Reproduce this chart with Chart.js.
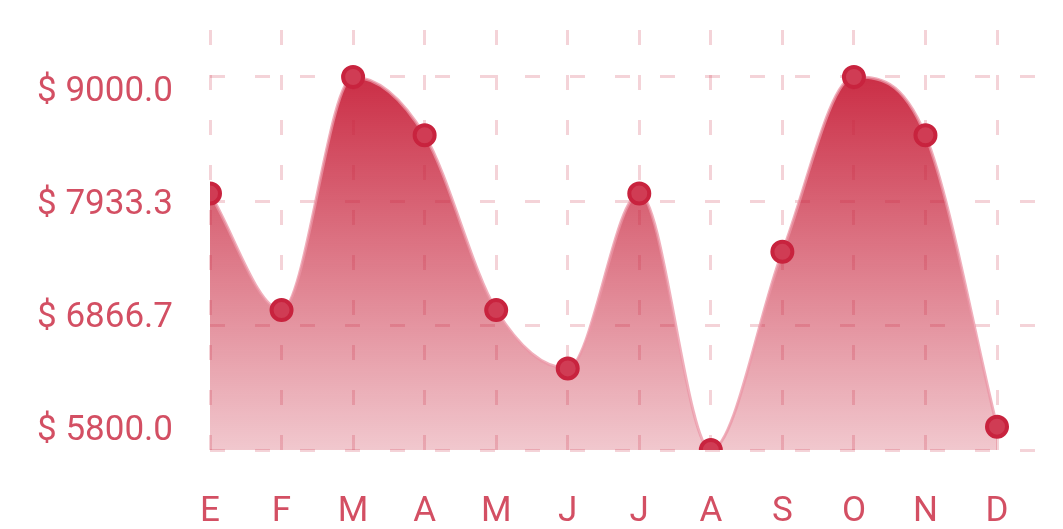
<!DOCTYPE html>
<html>
<head>
<meta charset="utf-8">
<script src="https://cdn.jsdelivr.net/npm/chart.js@4.4.0/dist/chart.umd.min.js"></script>
<style>
  html, body { margin: 0; padding: 0; background: #ffffff; }
  #wrap { width: 1063px; height: 529px; position: relative; }
</style>
</head>
<body>
<div id="wrap"><canvas id="c" width="1063" height="529"></canvas></div>
<script>
const months = ['E', 'F', 'M', 'A', 'M', 'J', 'J', 'A', 'S', 'O', 'N', 'D'];
const sales = [8000, 7000, 9000, 8500, 7000, 6500, 8000, 5800, 7500, 9000, 8500, 6000];
const yTickValues = [5800, 6866.67, 7933.33, 9000];

const LABEL = 'rgba(200,35,60,0.8)';
const GRID = 'rgba(200,35,60,0.2)';
const FONT = { family: 'Roboto', size: 35 };

const points = months.map((m, i) => ({ x: i, y: sales[i] }));

function fillGradient(context) {
  const chart = context.chart;
  const area = chart.chartArea;
  if (!area) return 'rgba(200,35,60,0.6)';
  const top = chart.scales.y.getPixelForValue(9000);
  const g = chart.ctx.createLinearGradient(0, top, 0, area.bottom);
  g.addColorStop(0, 'rgba(200,35,60,0.95)');
  g.addColorStop(1, 'rgba(200,35,60,0.25)');
  return g;
}

function noPadY(s) { s.paddingTop = 0; s.paddingBottom = 0; }

new Chart(document.getElementById('c'), {
  type: 'line',
  data: {
    datasets: [{
      data: points,
      fill: 'start',
      backgroundColor: fillGradient,
      borderColor: 'rgba(235,150,165,0.75)',
      borderWidth: 3,
      cubicInterpolationMode: 'monotone',
      pointRadius: 10,
      pointBorderWidth: 4,
      pointBackgroundColor: '#d03c54',
      pointBorderColor: '#c8233e',
      pointHoverRadius: 10
    }]
  },
  options: {
    responsive: false,
    animation: false,
    events: [],
    layout: { padding: { left: 37, right: 27, top: 30, bottom: 0 } },
    plugins: { legend: { display: false }, tooltip: { enabled: false } },
    scales: {
      x: {
        type: 'linear',
        position: 'bottom',
        min: 0,
        max: 11.545,
        afterBuildTicks: (s) => { s.ticks = months.map((m, i) => ({ value: i })); },
        afterFit: (s) => { s.height = 79; s.paddingLeft = 0; s.paddingRight = 0; },
        border: { display: false, dash: [15, 30] },
        grid: { color: GRID, lineWidth: 3, drawTicks: false },
        ticks: {
          autoSkip: false, maxRotation: 0, minRotation: 0,
          color: LABEL, font: FONT, padding: 41,
          callback: (v) => months[v]
        }
      },
      y: {
        type: 'linear',
        position: 'left',
        min: 5800,
        max: 9403.2,
        afterBuildTicks: (s) => { s.ticks = yTickValues.map(v => ({ value: v })); },
        afterFit: (s) => { s.width = 0; noPadY(s); },
        border: { display: false, dash: [15, 30] },
        grid: { color: GRID, lineWidth: 3, drawTicks: false },
        ticks: { display: false }
      },
      yLabels: {
        type: 'linear',
        position: 'left',
        min: 5620.7,
        max: 9585.3,
        afterBuildTicks: (s) => { s.ticks = yTickValues.map(v => ({ value: v })); },
        afterFit: (s) => { s.width = 173; noPadY(s); },
        border: { display: false },
        grid: { display: false, drawTicks: false },
        ticks: {
          color: LABEL, font: FONT, padding: 37,
          callback: (v) => '$ ' + v.toFixed(1)
        }
      }
    }
  }
});
</script>
</body>
</html>
